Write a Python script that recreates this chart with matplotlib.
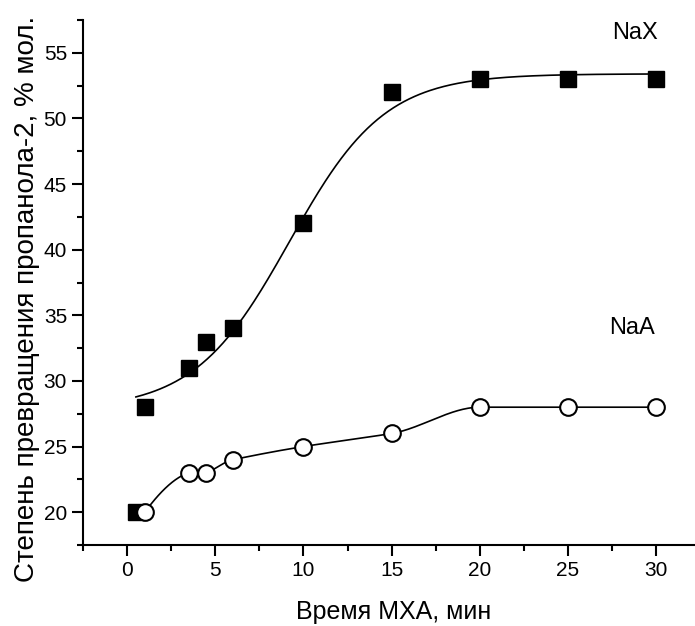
import numpy as np
import matplotlib
matplotlib.use("Agg")
import matplotlib.pyplot as plt
from matplotlib.ticker import MultipleLocator

plt.rcParams['font.family'] = ['Liberation Sans', 'DejaVu Sans']

# NaX series (filled squares)
nax_t = [0.5, 1, 3.5, 4.5, 6, 10, 15, 20, 25, 30]
nax_y = [20, 28, 31, 33, 34, 42, 52, 53, 53, 53]

# NaA series (open circles)
naa_t = [1, 3.5, 4.5, 6, 10, 15, 20, 25, 30]
naa_y = [20, 23, 23, 24, 25, 26, 28, 28, 28]

# Boltzmann fit parameters for NaX curve
A1, A2, X0, DX = 27.8, 53.4, 9.2, 2.7


def boltzmann(x):
    return A2 + (A1 - A2) / (1 + np.exp((x - X0) / DX))


def akima(x, y, xs):
    # Akima spline through the points
    x = np.asarray(x, float)
    y = np.asarray(y, float)
    n = len(x)
    h = np.diff(x)
    d = np.diff(y) / h
    # extend the slopes at both ends
    dd = np.concatenate([[3 * d[0] - 2 * d[1], 2 * d[0] - d[1]], d,
                         [2 * d[-1] - d[-2], 3 * d[-1] - 2 * d[-2]]])
    m = np.zeros(n)
    for k in range(n):
        w1 = abs(dd[k + 3] - dd[k + 2])
        w2 = abs(dd[k + 1] - dd[k])
        if w1 + w2 == 0:
            m[k] = 0.5 * (dd[k + 1] + dd[k + 2])
        else:
            m[k] = (w1 * dd[k + 1] + w2 * dd[k + 2]) / (w1 + w2)
    i = np.clip(np.searchsorted(x, xs) - 1, 0, n - 2)
    t = (xs - x[i]) / h[i]
    h00 = 2 * t**3 - 3 * t**2 + 1
    h10 = t**3 - 2 * t**2 + t
    h01 = -2 * t**3 + 3 * t**2
    h11 = t**3 - t**2
    return h00 * y[i] + h10 * h[i] * m[i] + h01 * y[i + 1] + h11 * h[i] * m[i + 1]


fig = plt.figure(figsize=(6.95, 6.26), dpi=100)
ax = fig.add_axes([0.1194, 0.1294, 0.8806, 0.8386])

xs = np.linspace(0.5, 30, 300)
ax.plot(xs, boltzmann(xs), color='black', lw=1.2)
xa = np.linspace(naa_t[0], naa_t[-1], 300)
ax.plot(xa, akima(naa_t, naa_y, xa), color='black', lw=1.2)

ax.plot(nax_t, nax_y, 's', color='black', ms=11, zorder=3)
ax.plot(naa_t, naa_y, 'o', mfc='white', mec='black', mew=1.5, ms=12, zorder=4)

ax.text(28.8, 56.5, 'NaX', fontsize=17, ha='center', va='center')
ax.text(28.65, 34.0, 'NaA', fontsize=17, ha='center', va='center')

ax.set_xlim(-2.5, 32.2)
ax.set_ylim(17.5, 57.5)
ax.xaxis.set_major_locator(MultipleLocator(5))
ax.xaxis.set_minor_locator(MultipleLocator(2.5))
ax.yaxis.set_major_locator(MultipleLocator(5))
ax.yaxis.set_minor_locator(MultipleLocator(2.5))
ax.spines['top'].set_visible(False)
ax.spines['right'].set_visible(False)
for s in ['left', 'bottom']:
    ax.spines[s].set_linewidth(1.5)
ax.tick_params(which='major', direction='out', length=8, width=1.5, labelsize=15)
ax.tick_params(which='minor', direction='out', length=4.5, width=1.5)

# axis titles placed where they sit in the picture
fig.text(394 / 695, 1 - 619 / 626, 'Время МХА, мин', fontsize=18,
         ha='center', va='baseline')
fig.text(14 / 695, 1 - 299 / 626, 'Степень превращения пропанола-2, % мол.',
         fontsize=20, rotation=90, ha='left', va='center')

fig.savefig('out.png', dpi=100)
